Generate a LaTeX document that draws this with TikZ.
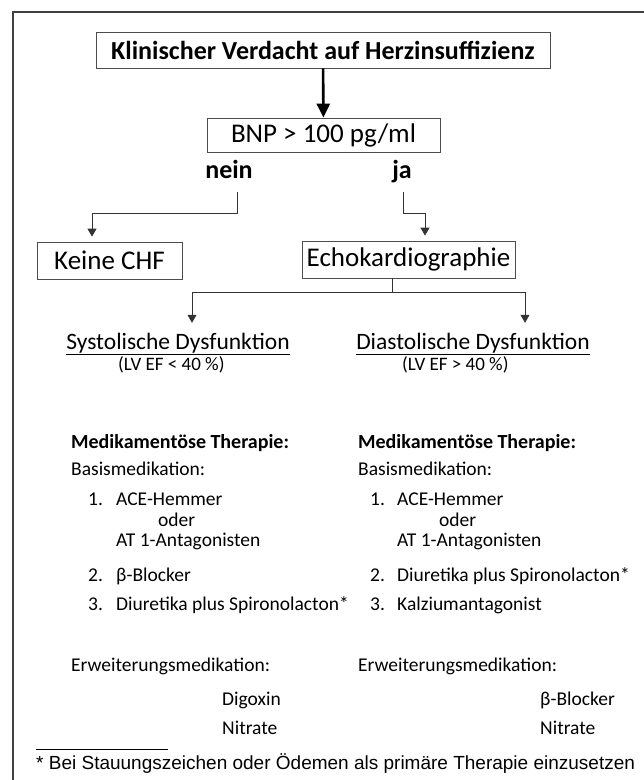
\documentclass[tikz,border=0pt]{standalone}
\usepackage{fontspec}
\setmainfont{Carlito}
\newfontfamily\notefont{Liberation Sans}
\usetikzlibrary{arrows.meta}

\begin{document}
\begin{tikzpicture}[x=1pt,y=-1pt,
    box/.style={draw=black!70, line width=0.8pt, inner sep=0pt},
    answer/.style={anchor=base, inner sep=0pt, text depth=0pt, font=\bfseries\fontsize{26}{28}\selectfont},
    head/.style={anchor=base, inner sep=0pt, text height=17pt, text depth=5pt, font=\fontsize{23.5}{26}\selectfont},
    txt/.style={anchor=base west, inner sep=0pt, font=\fontsize{19.5}{22}\selectfont},
    conn/.style={black!80, line width=0.8pt, -{Triangle[length=8pt,width=9pt]}}]
\useasboundingbox (0,0) rectangle (644,780);
% frame, only top and left are visible
\draw[black!75, line width=1.6pt] (13,781) -- (13,12) -- (645,12);

\node[box, minimum width=454pt, minimum height=36pt, font=\bfseries\fontsize{26}{28}\selectfont] (verdacht) at (323,50) {Klinischer Verdacht auf Herzinsuffizienz};
\node[box, minimum width=233pt, minimum height=34pt, font=\fontsize{27}{29}\selectfont] (bnp) at (323.5,135) {BNP > 100 pg/ml};
\draw[line width=2.6pt, -{Triangle[length=14pt,width=13pt]}] (verdacht) -- (bnp);

\node[answer] (nein) at (229,178) {nein};
\node[answer] (ja) at (402,178) {ja};

\node[box, minimum width=145pt, minimum height=37pt, font=\fontsize{27}{29}\selectfont] (keine) at (109.5,260.5) {Keine CHF};
\node[box, minimum width=213pt, minimum height=37pt, font=\fontsize{27}{29}\selectfont] (echo) at (408.5,259.5) {Echokardiographie};
\draw[conn] ([xshift=8pt,yshift=-14pt]nein.south) -- ++(0,21) -| ([xshift=-17.5pt,yshift=5pt]keine.north);
\draw[conn] ([xshift=1pt,yshift=-14pt]ja.south) -- ++(0,21) -| ([xshift=16.5pt,yshift=5pt]echo.north);

\node[head] (sys) at (178,349) {\underline{Systolische Dysfunktion}};
\node[head] (dia) at (473,349) {\underline{Diastolische Dysfunktion}};
\node[txt, font=\fontsize{19}{21}\selectfont] (sysef) at (118,370) {(LV EF < 40 \%)};
\node[txt, font=\fontsize{19}{21}\selectfont] (diaef) at (402,370) {(LV EF > 40 \%)};
\draw[black!80, line width=0.8pt] ([xshift=-16.5pt]echo.south) -- ++(0,14) coordinate (fork);
\draw[conn] (fork) -| ([xshift=14pt,yshift=9pt]sys.north);
\draw[conn] (fork) -| ([xshift=52pt,yshift=9pt]dia.north);

% left column
\node[txt, font=\bfseries\fontsize{20}{22}\selectfont] (medl) at (71,448) {Medikamentöse Therapie:};
\node[txt] (basisl) at (71,475) {Basismedikation:};
\node[txt] (l1n) at (88,505) {1.}; \node[txt] (l1) at (116,505) {ACE-Hemmer};
\node[txt] (l1o) at (158,526) {oder};
\node[txt] (l1b) at (116,546) {AT 1-Antagonisten};
\node[txt] (l2n) at (88,581) {2.}; \node[txt] (l2) at (116,581) {β-Blocker};
\node[txt] (l3n) at (88,610) {3.}; \node[txt] (l3) at (116,610) {Diuretika plus Spironolacton*};
\node[txt] (erwl) at (71,671) {Erweiterungsmedikation:};
\node[txt] (e1l) at (222,705) {Digoxin};
\node[txt] (e2l) at (222,734) {Nitrate};

% right column
\node[txt, font=\bfseries\fontsize{20}{22}\selectfont] (medr) at (358,448) {Medikamentöse Therapie:};
\node[txt] (basisr) at (358,475) {Basismedikation:};
\node[txt] (r1n) at (370,505) {1.}; \node[txt] (r1) at (397,505) {ACE-Hemmer};
\node[txt] (r1o) at (439,526) {oder};
\node[txt] (r1b) at (397,546) {AT 1-Antagonisten};
\node[txt] (r2n) at (370,581) {2.}; \node[txt] (r2) at (397,581) {Diuretika plus Spironolacton*};
\node[txt] (r3n) at (370,610) {3.}; \node[txt] (r3) at (397,610) {Kalziumantagonist};
\node[txt] (erwr) at (358,671) {Erweiterungsmedikation:};
\node[txt] (e1r) at (540,705) {β-Blocker};
\node[txt] (e2r) at (540,734) {Nitrate};

% footnote
\draw[line width=1pt] (36,749) -- (168,749);
\node[anchor=base west, inner sep=0pt, font=\notefont\fontsize{19}{21}\selectfont] (note) at (36,769) {* Bei Stauungszeichen oder Ödemen als primäre Therapie einzusetzen};
\end{tikzpicture}
\end{document}
